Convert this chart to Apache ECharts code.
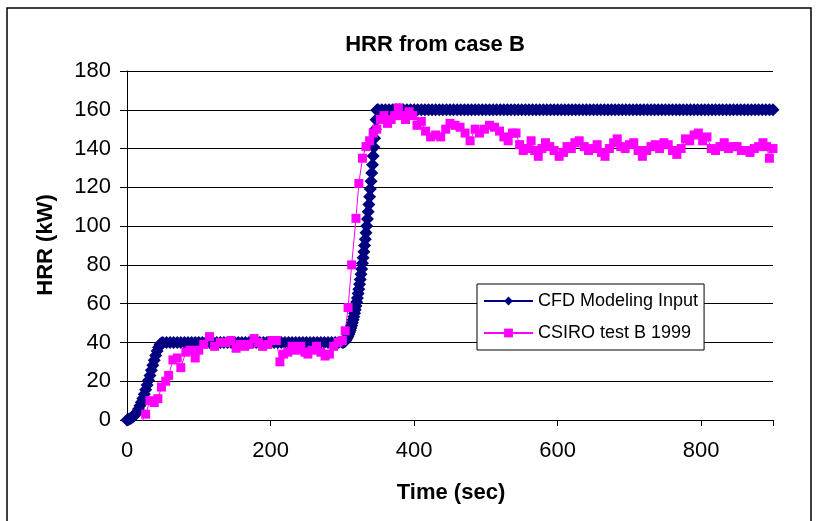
<!DOCTYPE html>
<html>
<head>
<meta charset="utf-8">
<script src="https://cdn.jsdelivr.net/npm/echarts@6/dist/echarts.min.js"></script>
<style>
html,body{margin:0;padding:0;background:#fff;}
#chart{width:816px;height:521px;}
</style>
</head>
<body>
<div id="chart"></div>
<script>
// ---- Data ----
const chartTitle = 'HRR from case B';
const xAxisTitle = 'Time (sec)';
const yAxisTitle = 'HRR (kW)';
const seriesNames = ['CFD Modeling Input', 'CSIRO test B 1999'];
const xTicks = [0, 200, 400, 600, 800];
const yTicks = [0, 20, 40, 60, 80, 100, 120, 140, 160, 180];

// CFD Modeling Input: growth to 40 kW
const cfdRamp1Time = [0,2,4,6,8,10,12,14,16,18,20,22,24,26,28,30,32,34,36,38,40,42,44,46,48,50];
const cfdRamp1HRR  = [0,0.2,0.6,1.0,1.5,2.2,3.1,4.3,5.7,7.3,9.1,11.1,13.3,15.6,18.0,20.5,23.0,25.6,28.2,30.8,33.3,35.6,37.5,38.9,39.7,40];
// CFD: 40 kW plateau
const cfdPlat1Time = [55,60,65,70,75,80,85,90,95,100,
  105,110,115,120,125,130,135,140,145,150,
  155,160,165,170,175,180,185,190,195,200,
  205,210,215,220,225,230,235,240,245,250,
  255,260,265,270,275,280,285,290,295];
const cfdPlat1HRR = [40,40,40,40,40,40,40,40,40,40,
  40,40,40,40,40,40,40,40,40,40,
  40,40,40,40,40,40,40,40,40,40,
  40,40,40,40,40,40,40,40,40,40,
  40,40,40,40,40,40,40,40,40];
// CFD: growth from 40 to 160 kW
const cfdRamp2Time = [300,301,302,303,304,305,306,307,308,309,
  310,311,312,313,314,315,316,317,318,319,
  320,321,322,323,324,325,326,327,328,329,
  330,331,332,333,334,335,336,337,338,339,
  340,341,342,343,344,345,346,347,348,349,350];
const cfdRamp2HRR = [40.0,40.05,40.2,40.5,40.8,41.3,41.9,42.5,43.3,44.2,
  45.2,46.3,47.5,48.8,50.2,51.7,53.3,55.0,56.8,58.8,
  60.8,62.9,65.2,67.5,70.0,72.5,75.2,77.9,80.8,83.7,
  86.8,90.0,93.2,96.6,100.1,103.7,107.4,111.2,115.1,119.1,
  123.2,127.4,131.7,136.1,140.7,145.3,150.0,154.9,159.8,160,160];
// CFD: 160 kW plateau
const cfdPlat2Time = [355,360,365,370,375,380,385,390,395,400,
  405,410,415,420,425,430,435,440,445,450,
  455,460,465,470,475,480,485,490,495,500,
  505,510,515,520,525,530,535,540,545,550,
  555,560,565,570,575,580,585,590,595,600,
  605,610,615,620,625,630,635,640,645,650,
  655,660,665,670,675,680,685,690,695,700,
  705,710,715,720,725,730,735,740,745,750,
  755,760,765,770,775,780,785,790,795,800,
  805,810,815,820,825,830,835,840,845,850,
  855,860,865,870,875,880,885,890,895,900];
const cfdPlat2HRR = [160,160,160,160,160,160,160,160,160,160,
  160,160,160,160,160,160,160,160,160,160,
  160,160,160,160,160,160,160,160,160,160,
  160,160,160,160,160,160,160,160,160,160,
  160,160,160,160,160,160,160,160,160,160,
  160,160,160,160,160,160,160,160,160,160,
  160,160,160,160,160,160,160,160,160,160,
  160,160,160,160,160,160,160,160,160,160,
  160,160,160,160,160,160,160,160,160,160,
  160,160,160,160,160,160,160,160,160,160,
  160,160,160,160,160,160,160,160,160,160];

// CSIRO test B 1999 measurements [time (s), HRR (kW)]
const csiroTime = [18,26,32,38,43,48,54,58,64,70,75,82,88,95,100,107,115,122,130,138,
  145,152,158,164,170,177,183,189,196,202,208,213,218,224,230,236,242,248,252,258,
  264,270,276,282,288,294,300,304,308,313,319,323,328,333,338,343,348,353,358,363,
  368,373,378,383,388,393,398,404,410,416,423,430,437,444,450,457,464,471,478,485,
  491,498,505,512,519,525,531,537,542,547,552,558,563,568,573,578,583,589,595,602,
  608,613,619,624,630,637,643,649,655,661,666,672,678,683,688,694,700,706,712,718,
  724,730,736,742,748,754,760,766,772,778,784,790,796,802,808,814,820,826,832,838,
  844,850,856,862,868,874,880,886,891,895,900];
const csiroHRR = [-3,3,10,9,11,17,20,23,31,32,27,35,36,32,36,39,43,38,40,40,
  41,37,39,38,39,42,40,38,39,41,41,30,34,35,38,36,38,35,34,36,
  38,35,33,34,38,40,41,46,58,80,104,122,135,141,144,148,150,155,157,153,
  155,157,161,157,155,159,157,152,154,149,146,147,146,150,153,152,151,148,144,150,
  148,150,152,151,149,146,144,148,148,142,139,140,144,139,136,140,143,141,139,136,
  138,141,140,143,144,141,139,140,142,138,136,140,143,145,141,140,142,143,139,136,
  139,141,142,140,143,142,139,137,140,145,144,147,148,144,146,140,139,141,143,140,
  141,141,139,139,138,140,141,143,141,135,140];

// ---- Build ----
function zip(a, b) { return a.map((t, i) => [t, b[i]]); }
const cfdData = [].concat(
  zip(cfdRamp1Time, cfdRamp1HRR),
  zip(cfdPlat1Time, cfdPlat1HRR),
  zip(cfdRamp2Time, cfdRamp2HRR),
  zip(cfdPlat2Time, cfdPlat2HRR));
const csiroData = zip(csiroTime, csiroHRR);

const FONT = '"Liberation Sans", Arial, sans-serif';
const chart = echarts.init(document.getElementById('chart'), null, {renderer: 'canvas'});
chart.setOption({
  animation: false,
  backgroundColor: '#fff',
  title: {
    text: chartTitle,
    left: 430, top: 29, textAlign: 'center',
    textStyle: {fontFamily: FONT, fontSize: 22, fontWeight: 'bold', color: '#000'}
  },
  grid: {left: 127, right: 43, top: 71, bottom: 101, containLabel: false},
  legend: {
    orient: 'vertical',
    left: 477, top: 284,
    padding: [7, 6, 7, 6],
    itemGap: 12,
    itemWidth: 49, itemHeight: 11,
    backgroundColor: '#fff',
    borderColor: '#000', borderWidth: 1,
    textStyle: {fontFamily: FONT, fontSize: 18, color: '#000', lineHeight: 20},
    data: seriesNames
  },
  xAxis: {
    type: 'value', min: 0, max: 900, interval: 200,
    axisLine: {show: true, lineStyle: {color: '#000', width: 1}},
    axisTick: {show: true, inside: false, length: 6, lineStyle: {color: '#000'}},
    axisLabel: {fontFamily: FONT, fontSize: 22, color: '#000', margin: 20,
      formatter: v => xTicks.indexOf(v) >= 0 ? String(v) : ''},
    splitLine: {show: false}
  },
  yAxis: {
    type: 'value', min: 0, max: 180, interval: 20,
    axisLine: {show: true, lineStyle: {color: '#000', width: 1}},
    axisTick: {show: true, inside: false, length: 7, lineStyle: {color: '#000'}},
    axisLabel: {fontFamily: FONT, fontSize: 22, color: '#000', margin: 16,
      formatter: v => yTicks.indexOf(v) >= 0 ? String(v) : ''},
    splitLine: {show: true, lineStyle: {color: '#000', width: 1}}
  },
  graphic: [
    {type: 'rect', shape: {x: 7, y: 8, width: 804, height: 540},
      style: {fill: 'none', stroke: '#000', lineWidth: 1.5}, silent: true, z: 100},
    {type: 'text', x: 451, y: 493,
      style: {text: xAxisTitle, font: 'bold 22px ' + FONT, fill: '#000', textAlign: 'center', textVerticalAlign: 'middle'}},
    {type: 'text', x: 46, y: 245, rotation: Math.PI / 2,
      style: {text: yAxisTitle, font: 'bold 22px ' + FONT, fill: '#000', textAlign: 'center', textVerticalAlign: 'middle'}}
  ],
  series: [
    {
      name: seriesNames[0], type: 'line', data: cfdData,
      symbol: 'diamond', symbolSize: 13, showAllSymbol: true,
      itemStyle: {color: '#000080'},
      lineStyle: {color: '#000080', width: 1},
      clip: true
    },
    {
      name: seriesNames[1], type: 'line', data: csiroData,
      symbol: 'rect', symbolSize: 9, showAllSymbol: true,
      itemStyle: {color: '#FF00FF'},
      lineStyle: {color: '#FF00FF', width: 1},
      clip: true
    }
  ]
});
</script>
</body>
</html>
